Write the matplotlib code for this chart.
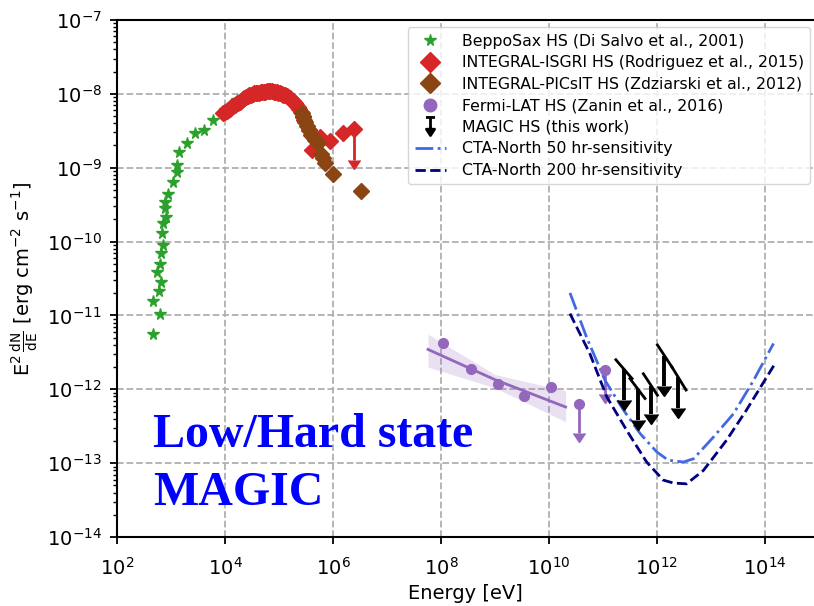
import numpy as np
import matplotlib.pyplot as plt
from matplotlib.lines import Line2D
from matplotlib.path import Path
from matplotlib.ticker import LogLocator, NullLocator

# all values are log10(E / eV) and log10(E^2 dN/dE / erg cm^-2 s^-1)

# BeppoSax hard state
sax_logE = [2.665, 2.80, 2.676, 2.77, 2.81, 2.75, 2.79, 2.81, 2.86, 2.84, 2.86, 2.91,
            2.88, 2.89, 2.95, 3.03, 3.12, 3.12, 3.15, 3.29, 3.45, 3.61, 3.78, 4.00, 4.22]
sax_logF = [-11.255, -10.98, -10.80, -10.67, -10.55, -10.41, -10.30, -10.16, -10.04, -9.89,
            -9.755, -9.665, -9.55, -9.46, -9.35, -9.19, -9.055, -8.965, -8.785, -8.67,
            -8.53, -8.49, -8.355, -8.22, -8.08]

# INTEGRAL-ISGRI
isgri_logE = [3.97, 4.00, 4.03, 4.06, 4.09, 4.12, 4.15, 4.18, 4.21, 4.24, 4.27, 4.30, 4.33,
              4.36, 4.39, 4.42, 4.45, 4.48, 4.51, 4.54, 4.57, 4.60, 4.63, 4.66, 4.69, 4.72,
              4.75, 4.78, 4.81, 4.84, 4.87, 4.90, 4.93, 4.96, 4.99, 5.02, 5.05, 5.08, 5.11,
              5.14, 5.17, 5.20, 5.23, 5.26, 5.29, 5.32, 5.35, 5.38, 5.41, 5.44, 5.47,
              5.55, 5.61, 5.76, 5.94, 6.18]
isgri_logF = [-8.26, -8.245, -8.23, -8.215, -8.20, -8.18, -8.165, -8.15, -8.135, -8.12, -8.105,
              -8.09, -8.075, -8.06, -8.045, -8.035, -8.02, -8.01, -8.00, -7.99, -7.985, -7.99,
              -7.985, -7.98, -7.975, -7.972, -7.97, -7.968, -7.967, -7.967, -7.968, -7.97,
              -7.975, -7.98, -7.985, -7.992, -8.0, -8.01, -8.02, -8.03, -8.045, -8.06, -8.08,
              -8.10, -8.125, -8.15, -8.18, -8.21, -8.25, -8.30, -8.36,
              -8.49, -8.76, -8.58, -8.635, -8.535]
isgri_ul_logE = [6.39]
isgri_ul_logF = [-8.47]
isgri_ul_low = [-8.89]

# INTEGRAL-PICsIT
picsit_logE = [5.42, 5.45, 5.48, 5.52, 5.55, 5.60, 5.64, 5.67, 5.72, 5.78, 5.82, 5.86, 6.01, 6.52]
picsit_logF = [-8.26, -8.32, -8.38, -8.44, -8.49, -8.56, -8.60, -8.63, -8.66, -8.82, -8.875,
               -8.93, -9.08, -9.31]

# Fermi-LAT
fermi_logE = [8.03, 8.55, 9.05, 9.54, 10.04]
fermi_logF = [-11.373, -11.725, -11.93, -12.09, -11.97]
fermi_ul_logE = [10.55, 11.03]
fermi_ul_logF = [-12.20, -11.74]
fermi_ul_low = [-12.59, -12.07]
fit_logE = [7.76, 9.00, 10.31]
fit_logF = [-11.46, -11.87, -12.24]
band_hi = [-11.255, -11.80, -12.02]
band_lo = [-11.70, -11.98, -12.44]

# MAGIC upper limits (arrow positions and slope segments)
magic_logE = [11.39, 11.65, 11.89, 12.14, 12.40]
magic_logF = [-11.73, -12.00, -11.95, -11.545, -11.84]
magic_low = [-12.14, -12.41, -12.34, -11.96, -12.26]
seg_E1 = [11.24, 11.50, 11.75, 12.01, 12.28]
seg_E2 = [11.54, 11.78, 12.01, 12.28, 12.54]
seg_F1 = [-11.60, -11.855, -11.79, -11.40, -11.70]
seg_F2 = [-11.855, -12.125, -12.08, -11.70, -12.01]

# CTA-North sensitivities
cta50_logE = [10.39, 10.70, 11.04, 11.38, 11.69, 12.00, 12.21, 12.49, 12.68, 13.05, 13.42, 13.79, 14.16]
cta50_logF = [-10.695, -11.30, -11.88, -12.28, -12.60, -12.85, -12.96, -12.985, -12.94, -12.645,
              -12.33, -11.88, -11.38]
cta200_logE = [10.39, 10.76, 11.07, 11.44, 11.81, 12.12, 12.31, 12.55, 12.86, 13.29, 13.66, 14.19]
cta200_logF = [-10.975, -11.52, -12.10, -12.555, -12.985, -13.23, -13.27, -13.28, -13.10, -12.69,
               -12.28, -11.65]


def p(v):
    return 10.0 ** np.array(v)


def upper_limits(ax, logE, logF, low, **kw):
    eb = ax.errorbar(p(logE), p(logF), yerr=p(logF) - p(low), uplims=True, **kw)
    for cl in eb[1]:
        if cl.get_marker() == '_':
            cl.set_visible(False)
    return eb


fig = plt.figure(figsize=(8.14, 6.06), dpi=100)
ax = fig.add_axes([117 / 814, 69 / 606, 1 - 117 / 814, 517 / 606])
ax.set_xscale('log')
ax.set_yscale('log')
ax.set_xlim(1e2, 10 ** 14.91)
ax.set_ylim(1e-14, 1e-7)

ax.plot(p(sax_logE), p(sax_logF), '*', color='tab:green', ms=8.5, ls='none')
ax.plot(p(isgri_logE), p(isgri_logF), 'D', color='tab:red', ms=8.5, ls='none')
upper_limits(ax, isgri_ul_logE, isgri_ul_logF, isgri_ul_low, fmt='D', color='tab:red',
             ms=8.5, lw=2, capsize=4.5)
ax.plot(p(picsit_logE), p(picsit_logF), 'D', color='saddlebrown', ms=8.5, ls='none')

ax.fill_between(p(fit_logE), p(band_lo), p(band_hi), color='tab:purple', alpha=0.2, lw=0)
ax.plot(p(fit_logE), p(fit_logF), color='tab:purple', lw=2)
ax.plot(p(fermi_logE), p(fermi_logF), 'o', color='tab:purple', ms=7, ls='none')
upper_limits(ax, fermi_ul_logE, fermi_ul_logF, fermi_ul_low, fmt='o', color='tab:purple',
             ms=7, lw=2, capsize=4.5)

ax.plot(p(cta50_logE), p(cta50_logF), '-.', color='royalblue', lw=2)
ax.plot(p(cta200_logE), p(cta200_logF), '--', color='navy', lw=2)

for e1, e2, f1, f2 in zip(seg_E1, seg_E2, seg_F1, seg_F2):
    ax.plot(p([e1, e2]), p([f1, f2]), color='black', lw=2)
upper_limits(ax, magic_logE, magic_logF, magic_low, fmt='none', color='black', ecolor='black',
             lw=2.8, capsize=5)

ax.set_xticks(p(np.arange(2, 15, 2)))
ax.xaxis.set_minor_locator(NullLocator())
ax.set_yticks(p(np.arange(-14, -6)))
ax.yaxis.set_minor_locator(LogLocator(base=10, subs=np.arange(2, 10), numticks=20))
ax.tick_params(labelsize=14, width=1.3, length=5)
ax.tick_params(axis='x', pad=9)
ax.tick_params(axis='y', pad=6)
ax.tick_params(which='minor', width=1, length=3)
for s in ['left', 'bottom', 'top']:
    ax.spines[s].set_linewidth(1.5)
ax.spines['right'].set_visible(False)
ax.grid(True, which='major', ls='--', color='#b0b0b0', lw=1.3)
ax.set_axisbelow(True)

ax.set_xlabel('Energy [eV]', fontsize=14)
ax.set_ylabel(r'E$^2\,\frac{\mathrm{dN}}{\mathrm{dE}}$ [erg cm$^{-2}$ s$^{-1}$]', fontsize=14)

ax.text(0.052, 0.174, 'Low/Hard state', transform=ax.transAxes, color='blue',
        fontsize=34.5, fontweight='bold', family='Liberation Serif')
ax.text(0.052, 0.062, 'MAGIC', transform=ax.transAxes, color='blue',
        fontsize=34.5, fontweight='bold', family='Liberation Serif')

ul_marker = Path([(-0.5, 1), (0.5, 1), (0, 1), (0, -0.3), (-0.45, -0.3), (0.45, -0.3), (0, -1), (-0.45, -0.3)],
                 [Path.MOVETO, Path.LINETO, Path.MOVETO, Path.LINETO, Path.MOVETO, Path.LINETO,
                  Path.LINETO, Path.CLOSEPOLY])
handles = [
    Line2D([], [], marker='*', color='tab:green', ls='none', ms=8.5),
    Line2D([], [], marker='D', color='tab:red', ls='none', ms=10),
    Line2D([], [], marker='D', color='saddlebrown', ls='none', ms=10),
    Line2D([], [], marker='o', color='tab:purple', ls='none', ms=9),
    Line2D([], [], marker=ul_marker, color='black', ls='none', ms=13, mew=2),
    Line2D([], [], ls='-.', color='royalblue', lw=2),
    Line2D([], [], ls='--', color='navy', lw=2),
]
labels = ['BeppoSax HS (Di Salvo et al., 2001)',
          'INTEGRAL-ISGRI HS (Rodriguez et al., 2015)',
          'INTEGRAL-PICsIT HS (Zdziarski et al., 2012)',
          'Fermi-LAT HS (Zanin et al., 2016)',
          'MAGIC HS (this work)',
          'CTA-North 50 hr-sensitivity',
          'CTA-North 200 hr-sensitivity']
ax.legend(handles, labels, loc='upper left', bbox_to_anchor=(0.418, 0.986), fontsize=11.3,
          handlelength=2, handletextpad=1.0, borderaxespad=0, labelspacing=0.42)

fig.savefig('out.png', dpi=100)
